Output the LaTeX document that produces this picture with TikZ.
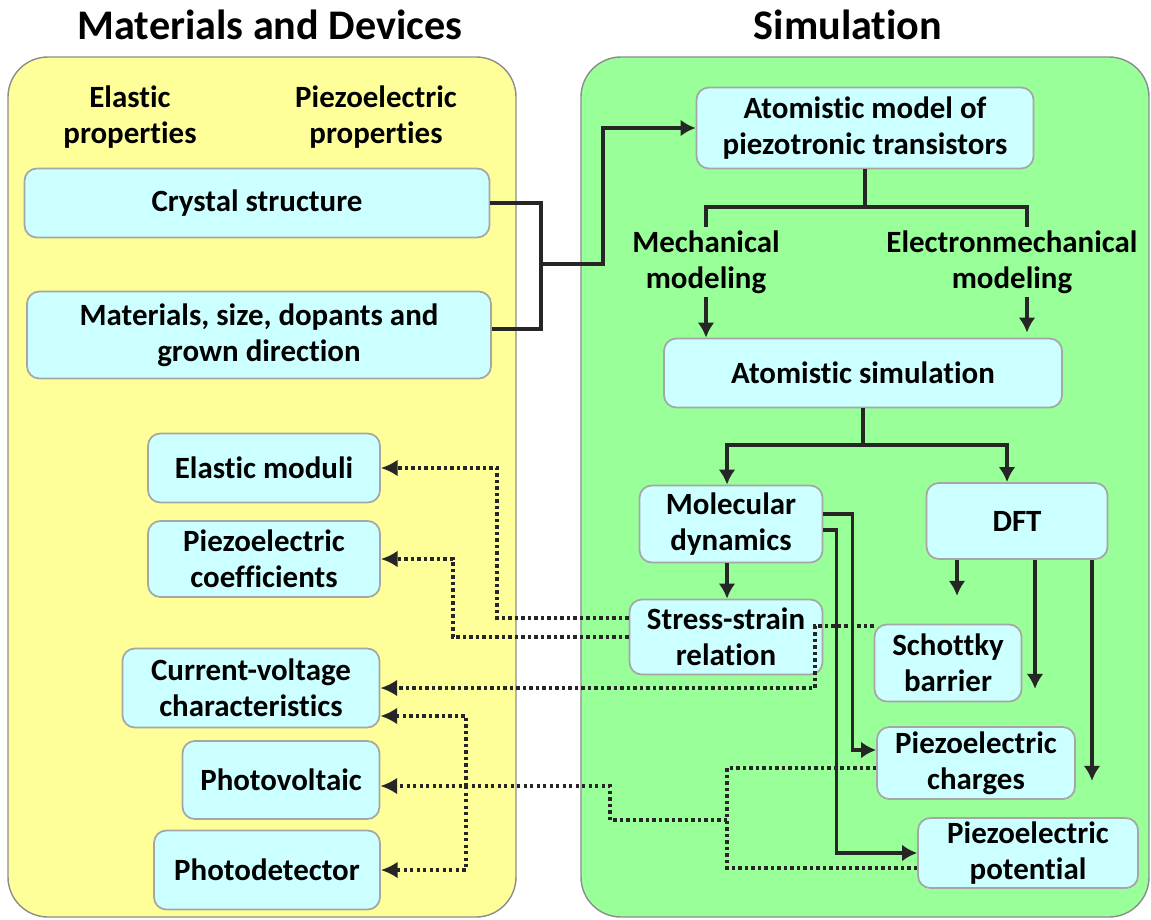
\documentclass[tikz,border=0pt]{standalone}
\usepackage{fontspec}
\setmainfont[Ligatures={NoCommon}]{Carlito}
\usepackage{tikz}
\usetikzlibrary{arrows}
\usetikzlibrary{arrows.meta}
\usepackage{xcolor}
\definecolor{panelyellow}{HTML}{FFFF99}
\definecolor{panelgreen}{HTML}{99FF99}
\definecolor{panelline}{HTML}{8C8C8C}
\definecolor{boxcyan}{HTML}{CCFFFF}
\definecolor{boxline}{HTML}{A6A6A6}
\definecolor{wire}{HTML}{262626}
\newcommand{\boxfont}{\fontsize{17.6}{20.4}\selectfont\bfseries}
\newcommand{\headfont}{\fontsize{24}{28}\selectfont\bfseries}

\tikzset{
  blk/.style={draw=boxline, fill=boxcyan, line width=1pt, rounded corners=7pt,
    align=center, inner sep=0pt, font=\boxfont},
  lbl/.style={align=center, inner xsep=0pt, inner ysep=2pt, font=\boxfont},
  sz/.style 2 args={minimum width=#1*0.02cm, minimum height=#2*0.02cm},
  panel/.style={draw=panelline, line width=0.8pt, rounded corners=0.8cm},
  link/.style={draw=wire, line width=1.8pt},
  flow/.style={link, arrows={-Latex[length=8.5pt,width=9.5pt]}},
  dotline/.style={link, dash pattern=on 1.8pt off 1.9pt},
  dots/.style={dotline, arrows={-Latex[length=9.5pt,width=9.5pt]}}
}

\begin{document}
\begin{tikzpicture}[x=0.02cm, y=-0.02cm]
\useasboundingbox (0,0) rectangle (1151,919);
% panels
\draw[panel, fill=panelyellow] (8,57) rectangle (516,917);
\draw[panel, fill=panelgreen] (581,57) rectangle (1149,917);
\node[font=\headfont] (ttlmat) at (270,25) {Materials and Devices};
\node[font=\headfont] (ttlsim) at (848,25) {Simulation};

% materials and devices
\node[lbl] (elprop) at (130,117) {Elastic\\properties};
\node[lbl] (pzprop) at (376,117) {Piezoelectric\\properties};
\node[blk, sz={465}{69}] (crystal) at (257,203) {Crystal structure};
\node[blk, sz={464}{87}] (matdir) at (259,335) {Materials, size, dopants and\\grown direction};
\node[blk, sz={232}{69}] (elmod) at (264,468) {Elastic moduli};
\node[blk, sz={232}{76}] (pzcoef) at (264,559) {Piezoelectric\\coefficients};
\node[blk, sz={257}{79}] (ivchar) at (251,688) {Current-voltage\\characteristics};
\node[blk, sz={197}{78}] (pvolt) at (281,780) {Photovoltaic};
\node[blk, sz={226}{79}] (pdet) at (267,870) {Photodetector};

% simulation
\node[blk, sz={337}{81}] (atmodel) at (865,128) {Atomistic model of\\piezotronic transistors};
\node[lbl] (mechmod) at (706,262) {Mechanical\\modeling};
\node[lbl] (elmech) at (1012,262) {Electronmechanical\\modeling};
\node[blk, sz={398}{69}] (atsim) at (863,373) {Atomistic simulation};
\node[blk, sz={183}{77}] (moldyn) at (731,524) {Molecular\\dynamics};
\node[blk, sz={181}{76}] (dft) at (1017,521) {DFT};
\node[blk, sz={193}{75}] (stress) at (726,637) {Stress-strain\\relation};
\node[blk, sz={147}{77}] (schottky) at (948,663) {Schottky\\barrier};
\node[blk, sz={198}{72}] (pzchg) at (976,763) {Piezoelectric\\charges};
\node[blk, sz={220}{70}] (pzpot) at (1028,853) {Piezoelectric\\potential};

% inputs to the model
\coordinate (jin) at (541,264);
\draw[link] (crystal.east) -| (jin);
\draw[link] ([yshift=0.12cm]matdir.east) -| (jin);
\draw[flow] (jin) -- (603,264) |- (atmodel.west);

% modeling tree
\coordinate (split1) at (865,207);
\coordinate (emx) at ([xshift=0.3cm]elmech.north);
\coordinate (emy) at ([xshift=0.3cm]elmech.south);
\draw[link] (atmodel.south) -- (split1);
\draw[link] (mechmod.north) |- (split1) -| (emx);
\draw[flow] (mechmod.south) -- (mechmod.south |- atsim.north);
\draw[flow] (emy) -- ([yshift=0.1cm]emy |- atsim.north);

\coordinate (split2) at (863,445);
\coordinate (dftin) at ([xshift=-0.2cm]dft.north);
\draw[link] (atsim.south) -- (split2);
\draw[flow] (split2) -| ([xshift=-0.08cm]moldyn.north);
\draw[flow] (split2) -| (dftin);
\draw[flow] ([xshift=-0.08cm]moldyn.south) -- ([xshift=-0.08cm]moldyn.south |- stress.north);

\draw[flow] ([yshift=0.2cm]moldyn.east) -- ++(29,0) |- ([yshift=0.26cm]pzchg.west);
\draw[flow] ([yshift=-0.12cm]moldyn.east) -- ++(13,0) |- (pzpot.west);

\draw[flow] ([xshift=-1.2cm]dft.south) -- ++(0,36);
\draw[flow] ([xshift=0.36cm]dft.south) -- ++(0,129);
\draw[flow] ([xshift=1.5cm]dft.south) -- ++(0,221);

% results back to materials
\draw[dots] ([yshift=0.38cm]stress.west) -| (497,468) -- (elmod.east);
\draw[dots] (stress.west) -| (453,559) -- (pzcoef.east);
\draw[dots] ([yshift=0.74cm]schottky.west) -| (815,688) -- (ivchar.east);

\coordinate (pzjoin) at (727,820);
\coordinate (pvbranch) at (466,786);
\draw[dotline] ([yshift=-0.1cm]pzchg.west) -| (pzjoin);
\draw[dotline] ([yshift=-0.3cm]pzpot.west) -| (pzjoin);
\draw[dots] (pzjoin) -- (610,820) |- ([yshift=-0.12cm]pvolt.east);
\draw[dots] (pvbranch) |- ([yshift=-0.56cm]ivchar.east);
\draw[dots] (pvbranch) |- (pdet.east);
\end{tikzpicture}
\end{document}
